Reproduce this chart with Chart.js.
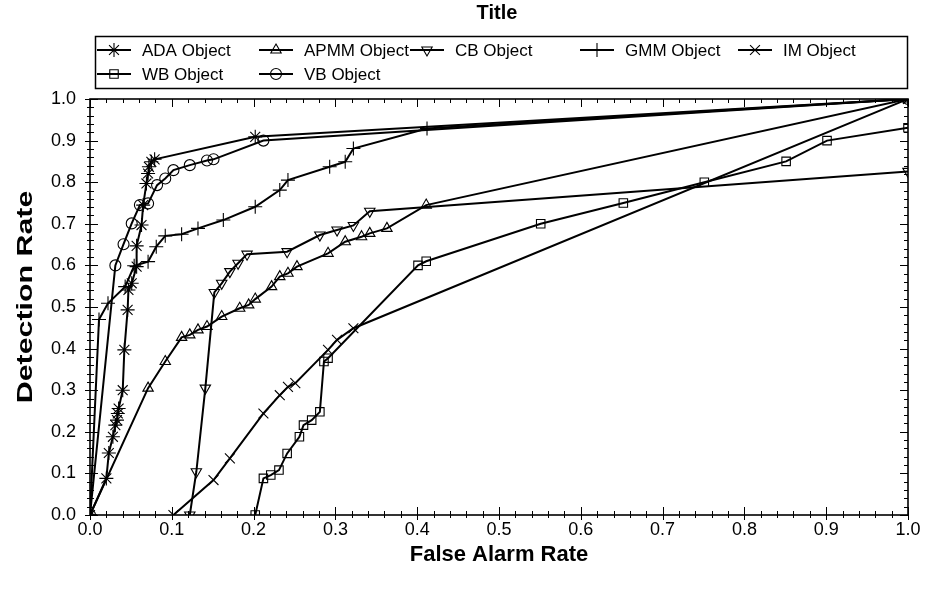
<!DOCTYPE html>
<html>
<head>
<meta charset="utf-8">
<script src="https://cdn.jsdelivr.net/npm/chart.js@4.4.0/dist/chart.umd.min.js"></script>
<style>
  html, body { margin: 0; padding: 0; background: #fff; }
</style>
</head>
<body>
<canvas id="roc" width="934" height="594"></canvas>
<script>
// series (false alarm rate, detection rate)
const seriesNames = ['ADA Object', 'APMM Object', 'CB Object', 'GMM Object', 'IM Object', 'WB Object', 'VB Object'];

const adaX = [0, 0.02, 0.023, 0.028, 0.031, 0.033, 0.034, 0.035, 0.04, 0.042, 0.046, 0.047, 0.051, 0.057, 0.057, 0.063, 0.065, 0.069, 0.071, 0.072, 0.075, 0.079, 0.202, 1.0];
const adaY = [0, 0.088, 0.149, 0.188, 0.216, 0.228, 0.244, 0.256, 0.3, 0.397, 0.493, 0.541, 0.557, 0.597, 0.647, 0.697, 0.745, 0.797, 0.821, 0.837, 0.849, 0.855, 0.909, 1.0];

const apmmX = [0, 0.071, 0.092, 0.112, 0.122, 0.132, 0.143, 0.161, 0.183, 0.194, 0.202, 0.222, 0.232, 0.242, 0.253, 0.291, 0.312, 0.332, 0.342, 0.363, 0.411, 1.0];
const apmmY = [0, 0.305, 0.369, 0.427, 0.433, 0.445, 0.453, 0.477, 0.497, 0.505, 0.519, 0.549, 0.573, 0.581, 0.597, 0.629, 0.657, 0.669, 0.677, 0.689, 0.745, 1.0];

const cbX = [0.122, 0.13, 0.141, 0.152, 0.161, 0.171, 0.181, 0.192, 0.241, 0.281, 0.302, 0.322, 0.342, 1.0];
const cbY = [0.0, 0.104, 0.305, 0.535, 0.557, 0.585, 0.605, 0.627, 0.633, 0.673, 0.685, 0.696, 0.73, 0.826];

const gmmX = [0, 0.011, 0.022, 0.043, 0.054, 0.071, 0.081, 0.092, 0.112, 0.132, 0.163, 0.202, 0.232, 0.242, 0.293, 0.312, 0.322, 0.412, 1.0];
const gmmY = [0, 0.47, 0.509, 0.549, 0.599, 0.609, 0.645, 0.671, 0.675, 0.689, 0.709, 0.741, 0.781, 0.805, 0.837, 0.849, 0.881, 0.929, 1.0];

const imX = [0.102, 0.151, 0.171, 0.212, 0.232, 0.242, 0.251, 0.291, 0.302, 0.322, 1.0];
const imY = [0.0, 0.084, 0.136, 0.244, 0.288, 0.308, 0.317, 0.397, 0.421, 0.449, 1.0];

const wbX = [0.202, 0.212, 0.221, 0.231, 0.241, 0.256, 0.261, 0.271, 0.281, 0.286, 0.291, 0.401, 0.411, 0.551, 0.652, 0.751, 0.851, 0.901, 1.0];
const wbY = [0.0, 0.088, 0.096, 0.108, 0.148, 0.188, 0.216, 0.228, 0.248, 0.369, 0.377, 0.6, 0.61, 0.7, 0.75, 0.8, 0.85, 0.9, 0.931];

const vbX = [0, 0.031, 0.041, 0.051, 0.061, 0.071, 0.082, 0.092, 0.102, 0.122, 0.143, 0.151, 0.212, 1.0];
const vbY = [0, 0.6, 0.651, 0.701, 0.745, 0.749, 0.793, 0.809, 0.829, 0.841, 0.852, 0.855, 0.9, 1.0];

const tickLabels = ['0.0', '0.1', '0.2', '0.3', '0.4', '0.5', '0.6', '0.7', '0.8', '0.9', '1.0'];

const FONT = "'Liberation Sans', Arial, sans-serif";

const zip = (xs, ys) => xs.map((x, i) => ({ x: x, y: ys[i] }));

const markers = [
  { style: 'star', rot: 0, r: 7 },
  { style: 'triangle', rot: 0, r: 6 },
  { style: 'triangle', rot: 180, r: 6 },
  { style: 'cross', rot: 0, r: 7 },
  { style: 'crossRot', rot: 0, r: 7 },
  { style: 'rect', rot: 0, r: 6 },
  { style: 'circle', rot: 0, r: 5.5 },
];

const allData = [
  zip(adaX, adaY), zip(apmmX, apmmY), zip(cbX, cbY), zip(gmmX, gmmY),
  zip(imX, imY), zip(wbX, wbY), zip(vbX, vbY),
];

const datasets = seriesNames.map((name, i) => ({
  label: name,
  data: allData[i],
  borderColor: '#000',
  borderWidth: 2,
  pointStyle: markers[i].style,
  pointRotation: markers[i].rot,
  pointRadius: markers[i].r,
  pointBorderColor: '#000',
  pointBorderWidth: 1.1,
  pointBackgroundColor: 'rgba(0,0,0,0)',
  fill: false,
  tension: 0,
}));

// frame, minor ticks, title, y title and the boxed legend
const framePlugin = {
  id: 'frame',
  afterDraw(chart) {
    const { ctx, chartArea: a, scales: { x, y } } = chart;
    ctx.save();
    ctx.strokeStyle = '#000';
    ctx.lineWidth = 1;
    for (let i = 0; i <= 50; i++) {
      const v = i / 50;
      const major = i % 5 === 0;
      const len = major ? 8 : 4;
      const px = Math.round(x.getPixelForValue(v)) + 0.5;
      const py = Math.round(y.getPixelForValue(v)) + 0.5;
      ctx.beginPath();
      ctx.moveTo(px, a.bottom - len); ctx.lineTo(px, a.bottom + (major ? 5 : 3));
      ctx.moveTo(px, a.top); ctx.lineTo(px, a.top + len);
      ctx.moveTo(a.left - (major ? 5 : 3), py); ctx.lineTo(a.left + len, py);
      ctx.moveTo(a.right, py); ctx.lineTo(a.right - len, py);
      ctx.stroke();
    }
    ctx.lineWidth = 1.6;
    ctx.strokeRect(a.left, a.top, a.right - a.left, a.bottom - a.top);

    // title
    ctx.fillStyle = '#000';
    ctx.font = 'bold 20px ' + FONT;
    ctx.textAlign = 'center';
    ctx.textBaseline = 'middle';
    ctx.fillText('Title', 497, 13);

    // y axis title, stretched along its length like the source
    ctx.save();
    ctx.translate(26, 297);
    ctx.rotate(-Math.PI / 2);
    ctx.scale(1.38, 1);
    ctx.font = 'bold 22px ' + FONT;
    ctx.fillText('Detection Rate', 0, 0);
    ctx.restore();

    // legend box
    ctx.lineWidth = 1.5;
    ctx.strokeRect(95.5, 36.5, 812, 52);
    const cols = [97, 259, 410, 580, 738];
    const rows = [50, 74];
    ctx.font = '17px ' + FONT;
    ctx.textAlign = 'left';
    seriesNames.forEach((name, i) => {
      const cx = cols[i % 5];
      const cy = rows[Math.floor(i / 5)];
      ctx.lineWidth = 2;
      ctx.beginPath();
      ctx.moveTo(cx, cy); ctx.lineTo(cx + 34, cy);
      ctx.stroke();
      ctx.lineWidth = 1.1;
      ctx.fillStyle = 'rgba(0,0,0,0)';
      Chart.helpers.drawPoint(ctx, {
        pointStyle: markers[i].style,
        rotation: markers[i].rot,
        radius: markers[i].r,
        borderWidth: 1.1,
      }, cx + 17, cy);
      ctx.fillStyle = '#000';
      ctx.fillText(name, cx + 45, cy + 1);
    });
    ctx.restore();
  }
};

new Chart(document.getElementById('roc').getContext('2d'), {
  type: 'line',
  data: { datasets: datasets },
  options: {
    responsive: false,
    animation: false,
    devicePixelRatio: 1,
    layout: { padding: { top: 99, right: 26, bottom: 0, left: 0 } },
    plugins: {
      legend: { display: false },
      tooltip: { enabled: false },
    },
    scales: {
      x: {
        type: 'linear',
        min: 0,
        max: 1,
        afterFit: (s) => { s.height = 79; },
        ticks: {
          stepSize: 0.1,
          color: '#000',
          padding: 4,
          maxRotation: 0,
          font: { family: FONT, size: 18 },
          callback: (v) => tickLabels[Math.round(v * 10)],
        },
        grid: { display: false, drawTicks: false, tickLength: 0 },
        border: { display: false },
        title: {
          display: true,
          text: 'False Alarm Rate',
          color: '#000',
          font: { family: FONT, size: 22, weight: 'bold' },
          padding: { top: 0, bottom: 26 },
        },
      },
      y: {
        type: 'linear',
        min: 0,
        max: 1,
        afterFit: (s) => { s.width = 90; },
        ticks: {
          stepSize: 0.1,
          color: '#000',
          padding: 14,
          font: { family: FONT, size: 18 },
          callback: (v) => tickLabels[Math.round(v * 10)],
        },
        grid: { display: false, drawTicks: false, tickLength: 0 },
        border: { display: false },
        title: { display: false },
      },
    },
  },
  plugins: [framePlugin],
});
</script>
</body>
</html>
